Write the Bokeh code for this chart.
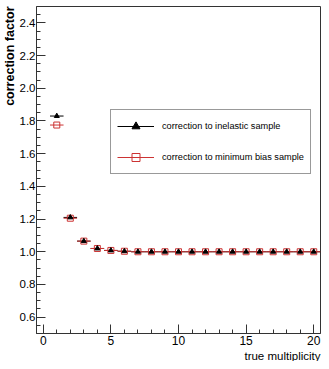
from bokeh.plotting import figure
from bokeh.models import (ColumnDataSource, FixedTicker, PrintfTickFormatter, Title,
                          Legend, LegendItem, Range1d)
from bokeh.embed import file_html
from bokeh.resources import INLINE

# ---- data ----
mult = list(range(1, 21))
corr_inelastic = [1.83, 1.21, 1.065, 1.02, 1.008, 1.003] + [1.0] * 14
corr_minbias = [1.775, 1.205, 1.065, 1.02, 1.008, 1.003] + [1.0] * 14
bin_half = 0.5
x_major = [0, 5, 10, 15, 20]
x_minor = list(range(0, 21))
y_major = [0.6, 0.8, 1.0, 1.2, 1.4, 1.6, 1.8, 2.0, 2.2, 2.4]
y_minor = [round(0.55 + 0.05 * i, 2) for i in range(39)]
label_inel = "correction to inelastic sample"
label_minb = "correction to minimum bias sample"
x_title = "true multiplicity"
y_title = "correction factor"

FONT = "Liberation Sans"
RED = "#cc3333"
AX = "#333333"

src = ColumnDataSource(dict(
    x=mult,
    x0=[m - bin_half for m in mult],
    x1=[m + bin_half for m in mult],
    yi=corr_inelastic,
    ym=corr_minbias,
))

p = figure(width=321, height=361, output_backend="svg", toolbar_location=None,
           x_range=Range1d(-0.5, 20.5), y_range=Range1d(0.5, 2.5),
           min_border_left=33, min_border_right=1, min_border_top=6, min_border_bottom=27)
p.background_fill_color = "white"
p.border_fill_color = "white"
p.outline_line_color = AX
p.outline_line_width = 1
p.grid.visible = False

for ax in (p.xaxis[0], p.yaxis[0]):
    ax.major_tick_in = 9
    ax.major_tick_out = 0
    ax.minor_tick_in = 4
    ax.minor_tick_out = 0
    ax.axis_line_color = AX
    ax.major_tick_line_color = AX
    ax.minor_tick_line_color = AX
    ax.major_label_text_font = FONT
    ax.major_label_text_color = "black"

p.xaxis.major_label_text_font_size = "12px"
p.yaxis.major_label_text_font_size = "11.5px"
p.xaxis.ticker = FixedTicker(ticks=x_major, minor_ticks=x_minor)
p.xaxis.major_label_standoff = 2
p.yaxis.ticker = FixedTicker(ticks=y_major, minor_ticks=y_minor)
p.yaxis.formatter = PrintfTickFormatter(format="%.1f")
p.yaxis.major_label_standoff = 1

seg_i = p.segment(x0="x0", x1="x1", y0="yi", y1="yi", source=src,
                  line_color="black", line_width=1)
seg_m = p.segment(x0="x0", x1="x1", y0="ym", y1="ym", source=src,
                  line_color=RED, line_width=1)
sq = p.scatter(x="x", y="ym", source=src, marker="square", size=6,
               fill_color=None, line_color=RED, line_width=1)
tri = p.scatter(x="x", y="yi", source=src, marker="triangle", size=5,
                fill_color="black", line_color="black")

legend = Legend(items=[LegendItem(label=label_inel, renderers=[seg_i, tri]),
                       LegendItem(label=label_minb, renderers=[seg_m, sq])],
                location=(74, 159), orientation="vertical")
legend.margin = 0
legend.padding = 6
legend.spacing = 11
legend.glyph_width = 37
legend.glyph_height = 20
legend.label_height = 20
legend.label_width = 140
legend.label_standoff = 8
legend.label_text_font = FONT
legend.label_text_font_size = "9.2px"
legend.label_text_color = "black"
legend.border_line_color = AX
legend.border_line_width = 1
legend.background_fill_color = "white"
legend.background_fill_alpha = 1
p.add_layout(legend)

ytitle = Title(text=y_title, align="right", standoff=0, offset=0,
               text_font=FONT, text_font_size="12.5px", text_font_style="bold",
               text_color="black")
xtitle = Title(text=x_title, align="right", standoff=0, offset=0,
               text_font=FONT, text_font_size="11.5px", text_font_style="normal",
               text_color="black")
p.add_layout(ytitle, "left")
p.add_layout(xtitle, "below")

open("out.html", "w").write(file_html(p, INLINE))
